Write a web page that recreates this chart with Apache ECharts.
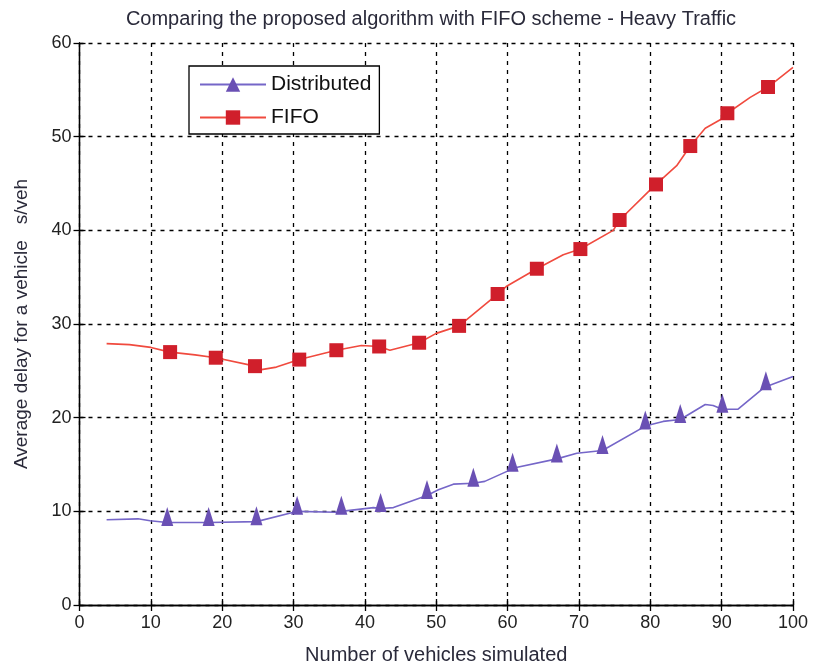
<!DOCTYPE html>
<html><head><meta charset="utf-8">
<script src="https://cdn.jsdelivr.net/npm/echarts@6/dist/echarts.min.js"></script>
<style>html,body{margin:0;padding:0;background:#fff}#c{width:813px;height:663px}</style>
</head><body><div id="c"></div>
<script>
// Distributed scheme
var distX = [3.8, 8.2, 9.9, 12.3, 16.9, 18.1, 24.8, 30.0, 30.5, 36.0, 36.7, 41.2, 42.2, 44.0, 48.7, 50.3, 52.4, 55.2, 56.8, 60.3, 60.7, 66.9, 69.7, 73.3, 79.3, 81.8, 84.2, 87.7, 88.8, 90.1, 92.3, 95.6, 96.2, 100];
var distY = [9.1, 9.2, 9.0, 8.8, 8.8, 8.8, 8.9, 9.9, 10.0, 9.9, 10.0, 10.4, 10.3, 10.4, 11.7, 12.3, 12.9, 13.0, 13.2, 14.4, 14.6, 15.6, 16.2, 16.5, 19.1, 19.6, 19.8, 21.4, 21.3, 20.9, 20.9, 23.0, 23.3, 24.4];
var distMark = [0,0,0,1,0,1,1,0,1,0,1,0,1,0,1,0,0,1,0,0,1,1,0,1,1,0,1,0,0,1,0,0,1,0];
// FIFO scheme
var fifoX = [3.8, 7.0, 10.0, 12.7, 16.2, 19.1, 24.6, 25.3, 27.6, 30.8, 36.0, 39.5, 42.0, 43.5, 47.6, 50.0, 53.2, 58.6, 59.8, 64.1, 67.8, 70.2, 74.8, 75.7, 79.7, 80.8, 83.7, 85.6, 87.7, 89.8, 90.8, 94.0, 96.5, 100];
var fifoY = [27.9, 27.8, 27.5, 27.0, 26.7, 26.4, 25.5, 25.1, 25.4, 26.2, 27.2, 27.7, 27.6, 27.2, 28.0, 29.0, 29.8, 33.2, 34.0, 35.9, 37.4, 38.0, 40.0, 41.1, 44.1, 44.9, 46.9, 49.0, 50.9, 51.8, 52.5, 54.2, 55.3, 57.4];
var fifoMark = [0,0,0,1,0,1,1,0,0,1,1,0,1,0,1,0,1,1,0,1,0,1,0,1,0,1,0,1,0,0,1,0,1,0];
var seriesNames = ['Distributed', 'FIFO'];
var titleText = 'Comparing the proposed algorithm with FIFO scheme - Heavy Traffic';
var xTitle = 'Number of vehicles simulated';
var yTitle = 'Average delay for a vehicle   s/veh';

function build(xs, ys, marks) {
  return xs.map(function (x, i) {
    var d = { value: [x, ys[i]] };
    if (!marks[i]) d.symbol = 'none';
    return d;
  });
}
var FONT = 'Liberation Sans';
var chart = echarts.init(document.getElementById('c'), null, { renderer: 'canvas' });
var axisCommon = {
  type: 'value',
  axisLine: { show: true, lineStyle: { color: '#000', width: 1.3 } },
  axisTick: { show: true, inside: true, length: 6, lineStyle: { color: '#000', width: 1.3 } },
  axisLabel: { color: '#222', fontFamily: FONT, fontSize: 18 },
  splitLine: { show: false }
};
chart.setOption({
  animation: false,
  backgroundColor: '#fff',
  title: {
    text: titleText, left: 426, top: 4, textAlign: 'center',
    textStyle: { fontFamily: FONT, fontSize: 20, fontWeight: 'normal', color: '#2a2a3a' }
  },
  grid: { left: 79.5, right: 20, top: 43, bottom: 58, containLabel: false, outerBoundsMode: 'none' },
  legend: {
    left: 189, top: 66, orient: 'vertical',
    backgroundColor: '#fff', borderColor: '#000', borderWidth: 1.3,
    padding: [8, 8, 6, 10], itemGap: 12, itemWidth: 66, itemHeight: 18,
    textStyle: { fontFamily: FONT, fontSize: 21, color: '#111' },
    data: seriesNames
  },
  xAxis: [
    Object.assign({}, axisCommon, {
      min: 0, max: 100, interval: 10, position: 'bottom',
      name: xTitle, nameLocation: 'middle', nameGap: 40,
      nameTextStyle: { fontFamily: FONT, fontSize: 20, color: '#2a2a3a' },
      axisLabel: { color: '#222', fontFamily: FONT, fontSize: 18, margin: 9 },
      splitLine: { show: true, lineStyle: { color: '#000', type: [4, 5], width: 1.3 } }
    }),
    Object.assign({}, axisCommon, {
      min: 0, max: 100, interval: 10, position: 'top', axisLabel: { show: false }
    })
  ],
  yAxis: [
    Object.assign({}, axisCommon, {
      min: 0, max: 60, interval: 10, position: 'left',
      name: yTitle, nameLocation: 'middle', nameGap: 48, nameRotate: 90,
      nameTextStyle: { fontFamily: FONT, fontSize: 19, color: '#2a2a3a' },
      axisLabel: { color: '#222', fontFamily: FONT, fontSize: 18, margin: 8 },
      splitLine: { show: true, lineStyle: { color: '#000', type: [4, 5], width: 1.3 } }
    }),
    Object.assign({}, axisCommon, {
      min: 0, max: 60, interval: 10, position: 'right', axisLabel: { show: false }
    })
  ],
  series: [
    {
      name: seriesNames[0], type: 'line', data: build(distX, distY, distMark),
      symbol: 'triangle', symbolSize: [12, 19], symbolOffset: [0, -6], showAllSymbol: true,
      lineStyle: { color: '#7566c8', width: 1.6 },
      itemStyle: { color: '#6a50b4', borderWidth: 0 },
      z: 3
    },
    {
      name: seriesNames[1], type: 'line', data: build(fifoX, fifoY, fifoMark),
      symbol: 'rect', symbolSize: 14, showAllSymbol: true,
      lineStyle: { color: '#f04a3e', width: 1.6 },
      itemStyle: { color: '#d01f2b', borderWidth: 0 },
      z: 3
    }
  ]
});
</script></body></html>
